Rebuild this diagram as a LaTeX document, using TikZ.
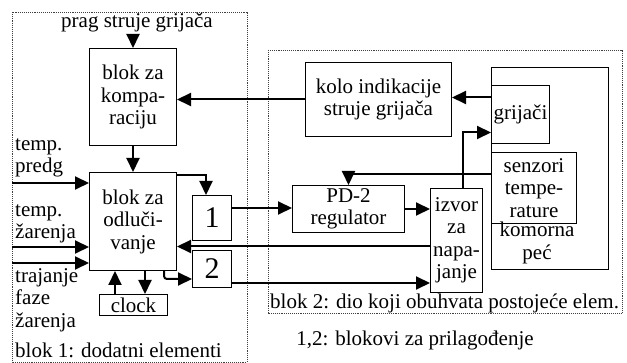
\documentclass[tikz,border=0pt]{standalone}
\usepackage{fontspec}
\setmainfont{Liberation Serif}
\usetikzlibrary{arrows.meta}

\begin{document}
\begin{tikzpicture}[
        x=1pt, y=-1pt,
        font=\fontsize{21}{22.5}\selectfont,
        box/.style={
            draw, line width=1pt, inner sep=1pt,
            align=center, anchor=north west
        },
        numbox/.style={box, font=\fontsize{30}{32}\selectfont},
        frame/.style={draw=black!75, densely dotted, line width=0.9pt},
        txt/.style={align=left, inner sep=0pt, anchor=west},
        arrow/.style={-{Triangle[length=14pt,width=13pt]}, line width=2pt}
    ]
    \useasboundingbox (0,0) rectangle (627,363);

    % Frames of the two blocks
    \draw[frame] (12,12) rectangle (247,362);
    \draw[frame] (268,50) rectangle (622,313);

    % Block 1
    \node (prag) at (137,22) {prag struje grijača};
    \node[box, minimum width=87pt, minimum height=97pt] (komp) at (89,48) {blok za\\kompa-\\raciju};
    \node[box, minimum width=87pt, minimum height=98pt] (odl) at (89,172) {blok za\\odluči-\\vanje};
    \node[numbox, minimum width=39pt, minimum height=45pt] (prv) at (192,195) {1};
    \node[numbox, minimum width=39pt, minimum height=37pt] (drg) at (192,250) {2};
    \node[box, minimum width=68pt, minimum height=21pt] (clock) at (99,294) {clock};

    \node[txt] (tpredg) at (15,158) {temp.\\predg};
    \node[txt] (tzar) at (15,224) {temp.\\žarenja};
    \node[txt] (traj) at (15,300) {trajanje\\faze\\žarenja};
    \node[txt] (blok1) at (15,350) {blok 1: dodatni elementi};

    \coordinate (in1) at (12,183);
    \coordinate (in2) at (12,247);
    \coordinate (in3) at (12,263);

    % Block 2
    \node[box, minimum width=146pt, minimum height=74pt] (kolo) at (305,62) {kolo indikacije\\struje grijača};
    \node[box, minimum width=117pt, minimum height=202pt] (komora) at (491,67) {};
    \node[box, minimum width=58pt, minimum height=58pt] (grij) at (491,85) {grijači};
    \node[box, minimum width=85pt, minimum height=71pt] (senz) at (491,152) {senzori\\tempe-\\rature};
    \node[align=center] (pec) at (537,243) {komorna\\peć};
    \node[box, minimum width=112pt, minimum height=47pt] (pd) at (292,185) {PD-2\\regulator};
    \node[box, minimum width=52pt, minimum height=104pt] (izvor) at (430,188) {izvor\\za\\napa-\\janje};
    \node[txt] (blok2) at (270,303) {blok 2: dio koji obuhvata postojeće elem.};

    \node (prilag) at (415,340) {1,2: blokovi za prilagođenje};

    % Connections in block 1
    \draw[arrow] (komp.north |- prag.south) -- (komp.north);
    \draw[arrow] (komp) -- (odl);
    \draw[arrow] (in1) -- (in1 -| odl.west);
    \draw[arrow] (in2) -- (in2 -| odl.west);
    \draw[arrow] (in3) -- (in3 -| odl.west);
    \draw[arrow] ([yshift=-3pt]odl.north east) -| ([xshift=-6pt]prv.north);
    \draw[arrow, rounded corners=3pt] ([xshift=-13pt]odl.south east) |- ([yshift=-10pt]drg.west);
    \draw[arrow] ([xshift=16pt]clock.north west) -- ([xshift=16pt]clock.north west |- odl.south);
    \draw[arrow] ([xshift=56pt]odl.south west) -- ([xshift=56pt]odl.south west |- clock.north);

    % Connections between the blocks
    \draw[arrow] (kolo.west) -- (kolo.west -| komp.east);
    \draw[arrow] ([yshift=10pt]prv.east) -- ([yshift=10pt]prv.east -| pd.west);
    \draw[arrow] ([yshift=-14pt]drg.east) -- ([yshift=-14pt]drg.east -| izvor.west);
    \draw[arrow] ([yshift=-6pt]izvor.west) -- ([yshift=-6pt]izvor.west -| odl.east);

    % Connections in block 2
    \draw[arrow] ([yshift=17pt]grij.west) -- ([yshift=17pt]grij.west -| kolo.east);
    \draw[arrow] ([yshift=14pt]senz.west) -| (pd.north);
    \draw[arrow] (pd.east) -- (pd.east -| izvor.west);
    \draw[arrow] ([xshift=6pt]izvor.north) |- ([yshift=-18pt]grij.west);

\end{tikzpicture}
\end{document}
